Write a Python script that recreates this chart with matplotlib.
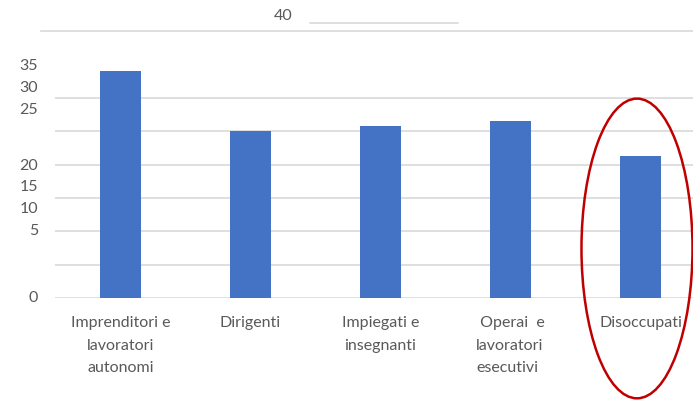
import matplotlib
matplotlib.use("Agg")
import matplotlib.pyplot as plt
from matplotlib.patches import Ellipse

plt.rcParams['font.family'] = ['Lato', 'DejaVu Sans']

categories = ["Imprenditori e\nlavoratori\nautonomi", "Dirigenti", "Impiegati e\ninsegnanti",
              " Operai  e\nlavoratori\nesecutivi", "Disoccupati"]
values = [34.0, 25.0, 25.7, 26.5, 21.3]
ytick_labels = ["35", "30", "25", "20", "15", "10", "5", "0"]
ytick_positions = [35.0, 31.7, 28.4, 20.0, 16.8, 13.5, 10.2, 0.2]
grid_values = [5, 10, 15, 20, 25, 30]
top_value = 40

W, H = 693, 400
fig = plt.figure(figsize=(W / 100, H / 100), dpi=100)
left_px, right_px, top_px, bot_px = 55.5, 705.5, 31, 298
ax = fig.add_axes([left_px / W, 1 - bot_px / H, (right_px - left_px) / W, (bot_px - top_px) / H])
ax.set_xlim(-0.5, 4.5)
ax.set_ylim(0, top_value)

grid_c = "#D9D9D9"
text_c = "#595959"
fs = 11.5
for g in grid_values:
    ax.axhline(g, color=grid_c, lw=1.2, zorder=0)
ax.axhline(0, color=grid_c, lw=1.2, zorder=0)
ax.axhline(top_value, xmin=-14 / 650, xmax=1, color=grid_c, lw=1.2, zorder=0, clip_on=False)

x = list(range(len(categories)))
ax.bar(x, values, width=0.315, color="#4472C4", zorder=2)

for s in ax.spines.values():
    s.set_visible(False)

ax.set_yticks(ytick_positions)
ax.set_yticklabels(ytick_labels, fontsize=fs, color=text_c)
ax.tick_params(axis='y', length=0, pad=12.6)
ax.set_xticks(x)
labs = ax.set_xticklabels(categories, fontsize=fs, color=text_c, linespacing=1.78)
labs[3].set_multialignment('left')
ax.tick_params(axis='x', length=0, pad=13)

# stray label and line at the top
ax.text(1.327, 42.3, "40", ha="right", va="center", fontsize=fs, color=text_c, clip_on=False)
ax.plot([1.458, 2.596], [41.24, 41.24], color=grid_c, lw=1.2, clip_on=False)

# red highlight ellipse
ax.add_patch(Ellipse((3.973, 7.42), 0.854, 44.9, fill=False, edgecolor="#C00000", lw=1.8,
                     clip_on=False, zorder=3))

fig.savefig("out.png", dpi=100)
